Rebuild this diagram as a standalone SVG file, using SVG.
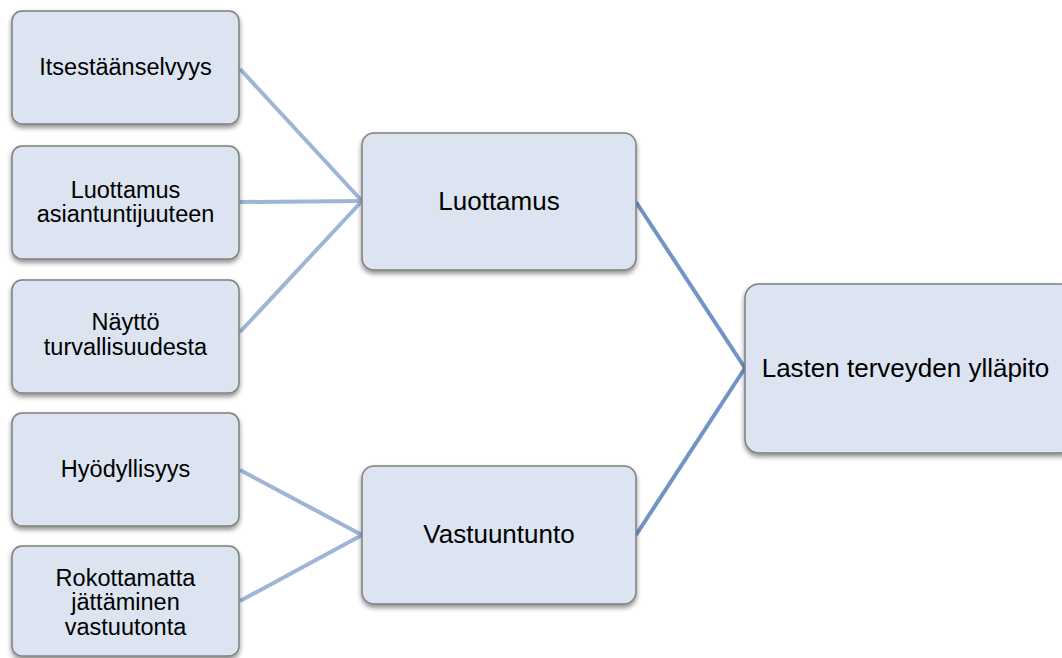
<svg xmlns="http://www.w3.org/2000/svg" width="1062" height="658" viewBox="0 0 1062 658">
  <defs>
    <filter id="shadow" x="-10%" y="-10%" width="120%" height="130%">
      <feGaussianBlur in="SourceAlpha" stdDeviation="2.5"/>
      <feOffset dx="0" dy="3" result="b"/>
      <feComponentTransfer><feFuncA type="linear" slope="0.45"/></feComponentTransfer>
      <feMerge><feMergeNode/><feMergeNode in="SourceGraphic"/></feMerge>
    </filter>
  </defs>
  <style>
    .box { fill: #dbe4f0; stroke: #7f7f7f; stroke-width: 1.5; filter: url(#shadow); }
    .lbl { font-family: "Liberation Sans", Arial, sans-serif; fill: #000; text-anchor: middle; }
    .small { font-size: 23.5px; }
    .big { font-size: 26px; }
    .link1 { stroke: #9fb4d6; stroke-width: 4; fill: none; }
    .link2 { stroke: #7094c7; stroke-width: 4; fill: none; }
  </style>
  <rect width="1062" height="658" fill="#ffffff"/>

  <g id="connectors">
    <line class="link1" x1="240" y1="69" x2="362" y2="201"/>
    <line class="link1" x1="240" y1="202" x2="362" y2="201"/>
    <line class="link1" x1="240" y1="332" x2="362" y2="201"/>
    <line class="link1" x1="240" y1="470" x2="362" y2="535"/>
    <line class="link1" x1="240" y1="601" x2="362" y2="535"/>
    <line class="link2" x1="636" y1="202" x2="745" y2="368"/>
    <line class="link2" x1="636" y1="535" x2="745" y2="368"/>
  </g>

  <g id="itsestaanselvyys">
    <rect class="box" x="12" y="11" width="227" height="113" rx="10"/>
    <text class="lbl small" x="125.5" y="75">Itsestäänselvyys</text>
  </g>
  <g id="luottamus-asiantuntijuuteen">
    <rect class="box" x="12" y="146" width="227" height="113" rx="10"/>
    <text class="lbl small" x="125.5" y="198">Luottamus</text>
    <text class="lbl small" x="125.5" y="222">asiantuntijuuteen</text>
  </g>
  <g id="naytto-turvallisuudesta">
    <rect class="box" x="12" y="280" width="227" height="113" rx="10"/>
    <text class="lbl small" x="125.5" y="330">Näyttö</text>
    <text class="lbl small" x="125.5" y="355">turvallisuudesta</text>
  </g>
  <g id="hyodyllisyys">
    <rect class="box" x="12" y="413" width="227" height="113" rx="10"/>
    <text class="lbl small" x="125.5" y="477">Hyödyllisyys</text>
  </g>
  <g id="rokottamatta">
    <rect class="box" x="12" y="546" width="227" height="110" rx="10"/>
    <text class="lbl small" x="125.5" y="586">Rokottamatta</text>
    <text class="lbl small" x="125.5" y="610">jättäminen</text>
    <text class="lbl small" x="125.5" y="635">vastuutonta</text>
  </g>

  <g id="luottamus">
    <rect class="box" x="362" y="133" width="274" height="137" rx="12"/>
    <text class="lbl big" x="499" y="210">Luottamus</text>
  </g>
  <g id="vastuuntunto">
    <rect class="box" x="362" y="466" width="274" height="138" rx="12"/>
    <text class="lbl big" x="499" y="543">Vastuuntunto</text>
  </g>

  <g id="lasten-terveyden-yllapito">
    <rect class="box" x="745" y="284" width="330" height="169" rx="14"/>
    <text class="lbl big" x="905.5" y="377">Lasten terveyden ylläpito</text>
  </g>
</svg>
